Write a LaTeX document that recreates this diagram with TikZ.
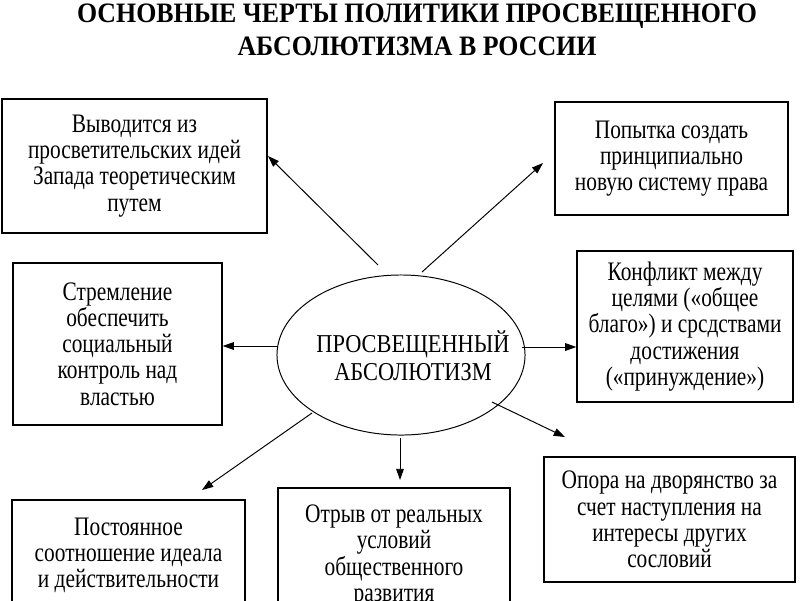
\documentclass[tikz,border=0pt]{standalone}
\usepackage{fontspec}
\setmainfont{Liberation Serif}
\newfontfamily\boxfont[FakeStretch=0.8]{Liberation Serif}
\newfontfamily\ovalfont[FakeStretch=0.87]{Liberation Serif}
\newfontfamily\titlefont[FakeStretch=0.92]{Liberation Serif}
\usetikzlibrary{arrows.meta,shapes.geometric}

\begin{document}
\begin{tikzpicture}[x=0.025cm,y=-0.025cm,
  box/.style={draw, line width=0.9pt, align=center, inner sep=0pt,
    font=\boxfont\fontsize{19}{18.6}\selectfont},
  oval/.style={draw, ellipse, line width=0.7pt, inner sep=0pt,
    minimum width=6.2cm, minimum height=4cm},
  arr/.style={-{Triangle[length=8pt,width=5.5pt]}, line width=0.7pt}]
\useasboundingbox (0,0) rectangle (800,600);
% title
\node[align=center, font=\titlefont\bfseries\fontsize{20}{23.5}\selectfont] (title) at (417,30)
  {ОСНОВНЫЕ ЧЕРТЫ ПОЛИТИКИ ПРОСВЕЩЕННОГО\\АБСОЛЮТИЗМА В РОССИИ};
% centre
\node[oval] (abs) at (401,355) {};
\node[align=center, font=\ovalfont\fontsize{18.3}{20}\selectfont] (abstxt) at (413,356)
  {ПРОСВЕЩЕННЫЙ\\АБСОЛЮТИЗМ};
% boxes
\node[box, minimum width=6.625cm, minimum height=3.35cm] (idea) at (134.5,166)
  {Выводится из\\просветительских идей\\Запада теоретическим\\путем};
\node[box, minimum width=5.825cm, minimum height=2.825cm] (law) at (671.5,158.5)
  {Попытка создать\\принципиально\\новую систему права};
\node[box, minimum width=5.225cm, minimum height=4.05cm] (control) at (117.5,344)
  {Стремление\\обеспечить\\социальный\\контроль над\\властью};
\node[box, minimum width=5.4cm, minimum height=3.775cm] (conflict) at (685,326.5)
  {Конфликт между\\целями («общее\\благо») и срсдствами\\достижения\\(«принуждение»)};
\node[box, minimum width=5.825cm, minimum height=2.75cm] (ideal) at (128.5,555)
  {Постоянное\\соотношение идеала\\и действительности};
\node[box, minimum width=5.8cm, minimum height=3.4cm] (gap) at (394,556)
  {Отрыв от реальных\\условий\\общественного\\развития};
\node[box, minimum width=6.275cm, minimum height=3.125cm] (nobles) at (669.5,519.5)
  {Опора на дворянство за\\счет наступления на\\интересы других\\сословий};
% arrow ends
\coordinate (a1) at (378,265); \coordinate (t1) at (268,156);
\coordinate (a2) at (422,272); \coordinate (t2) at (543,163);
\coordinate (a3) at (278,346);
\coordinate (a4) at (522,347);
\coordinate (a5) at (492,402); \coordinate (t5) at (565,437);
\coordinate (a6) at (400,438); \coordinate (t6) at (400,480);
\coordinate (a7) at (312,413); \coordinate (t7) at (202,490);
\draw[arr] (a1) -- (t1);
\draw[arr] (a2) -- (t2);
\draw[arr] (a3) -- (control.east |- a3);
\draw[arr] (a4) -- (conflict.west |- a4);
\draw[arr] (a5) -- (t5);
\draw[arr] (a6) -- (t6);
\draw[arr] (a7) -- (t7);
\end{tikzpicture}
\end{document}
